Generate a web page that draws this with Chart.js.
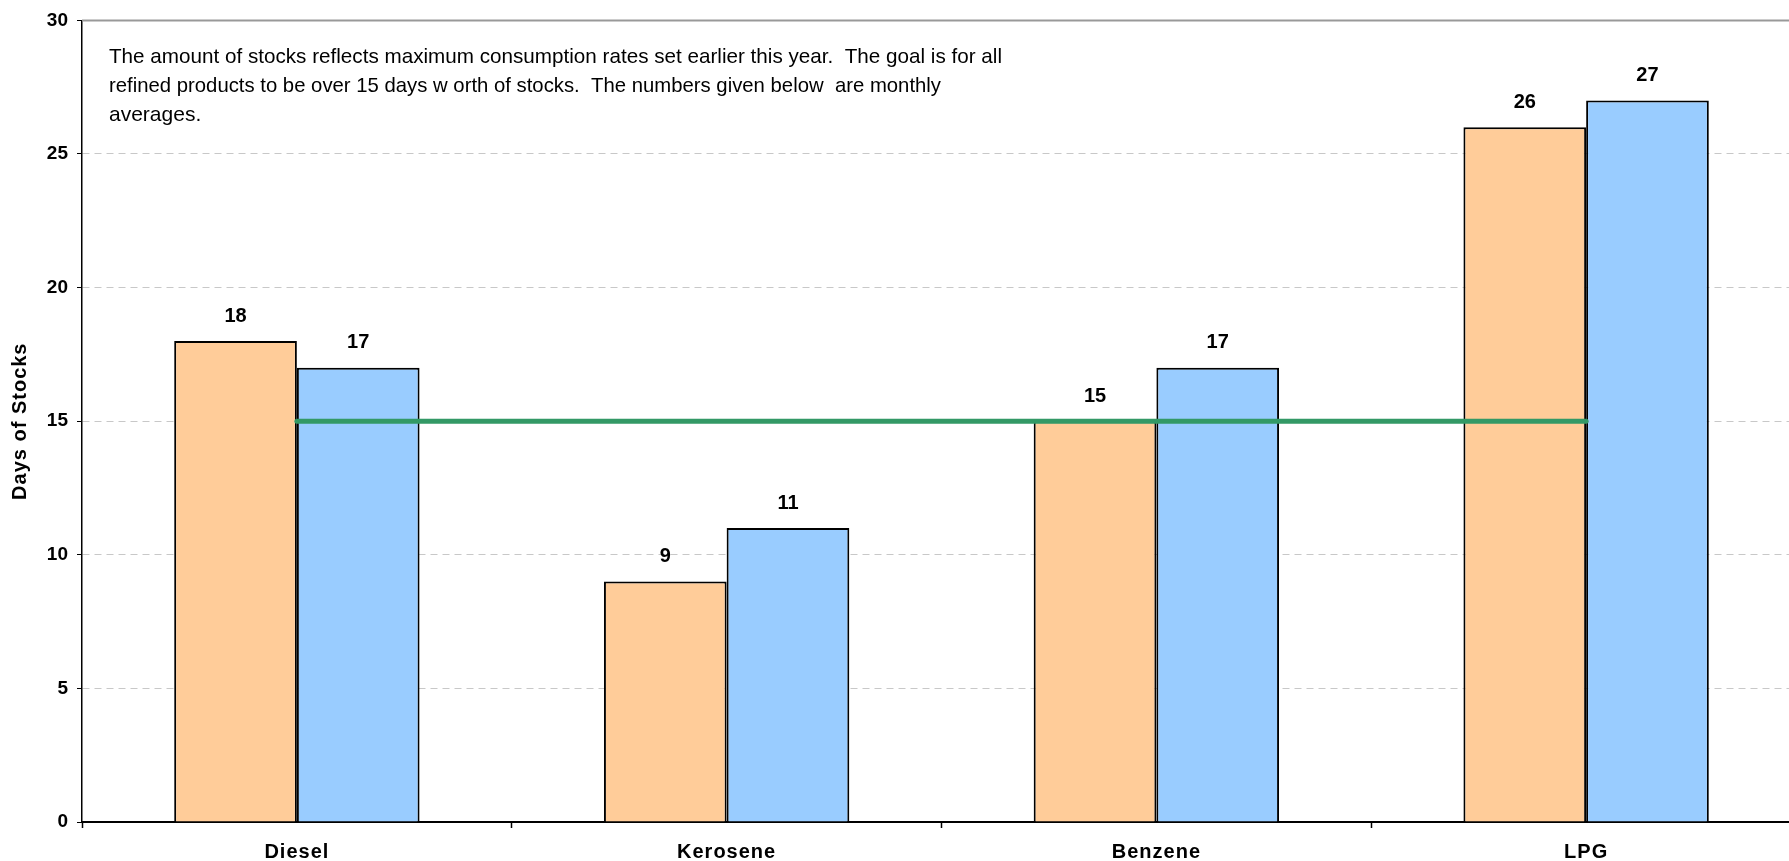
<!DOCTYPE html>
<html>
<head>
<meta charset="utf-8">
<script src="https://cdn.jsdelivr.net/npm/chart.js@4"></script>
<style>
  html, body { margin: 0; padding: 0; background: #fff; overflow: hidden; }
  #wrap { width: 1801px; height: 861px; }
</style>
</head>
<body>
<div id="wrap"><canvas id="c" width="1801" height="861"></canvas></div>
<script>
const categories = ['Diesel', 'Kerosene', 'Benzene', 'LPG'];
const seriesA = [18, 9, 15, 26];
const seriesB = [17, 11, 17, 27];
const goal = [15, 15, 15, 15];
const yTicks = [0, 5, 10, 15, 20, 25, 30];
const noteLines = [
  'The amount of stocks reflects maximum consumption rates set earlier this year.  The goal is for all',
  'refined products to be over 15 days w orth of stocks.  The numbers given below  are monthly',
  'averages.'
];
const FONT = '"Liberation Sans", Arial, Helvetica, sans-serif';

const spacingPlugin = {
  id: 'spacing',
  afterLayout(chart) {
    const y = chart.scales.y;
    if (y && !y._noSpacingPatched) {
      const orig = y.drawLabels.bind(y);
      y.drawLabels = function (area) {
        const ctx = this.ctx;
        const prev = ctx.letterSpacing;
        ctx.letterSpacing = '0px';
        orig(area);
        ctx.letterSpacing = prev;
      };
      y._noSpacingPatched = true;
    }
  },
  beforeDraw(chart) { chart.ctx.letterSpacing = '1px'; },
  beforeDatasetsDraw(chart) { chart.ctx.letterSpacing = '0px'; }
};

const labelPlugin = {
  id: 'barLabels',
  afterDatasetsDraw(chart) {
    const ctx = chart.ctx;
    ctx.save();
    ctx.letterSpacing = '0px';
    ctx.font = 'bold 20px ' + FONT;
    ctx.fillStyle = '#000';
    ctx.textAlign = 'center';
    ctx.textBaseline = 'middle';
    chart.data.datasets.forEach((ds, i) => {
      if (ds.type === 'line') return;
      const meta = chart.getDatasetMeta(i);
      meta.data.forEach((el, j) => {
        ctx.fillText(String(ds.data[j]), el.x, el.y - 25);
      });
    });
    ctx.restore();
  }
};

const framePlugin = {
  id: 'frame',
  beforeDatasetsDraw(chart) {
    const {ctx, chartArea} = chart;
    ctx.save();
    ctx.strokeStyle = '#999';
    ctx.lineWidth = 2;
    ctx.beginPath();
    ctx.moveTo(chartArea.left, chartArea.top);
    ctx.lineTo(chartArea.right, chartArea.top);
    ctx.stroke();
    ctx.restore();
  },
  afterDraw(chart) {
    const {ctx, chartArea} = chart;
    ctx.save();
    ctx.letterSpacing = '0px';
    ctx.font = '21px ' + FONT;
    ctx.fillStyle = '#000';
    ctx.textAlign = 'left';
    ctx.textBaseline = 'alphabetic';
    const x = chartArea.left + 27;
    const widths = [893, 832, 200];
    noteLines.forEach((t, i) => {
      ctx.fillText(t, x, 63 + i * 29, widths[i]);
    });
    ctx.restore();
  }
};

new Chart(document.getElementById('c'), {
  data: {
    labels: categories,
    datasets: [
      {
        type: 'line',
        label: 'Goal',
        data: goal,
        borderColor: '#339966',
        borderWidth: 5,
        borderCapStyle: 'round',
        pointRadius: 0,
        fill: false,
        order: 0
      },
      {
        type: 'bar',
        label: 'Series 1',
        data: seriesA,
        backgroundColor: '#FFCC99',
        borderColor: '#000',
        borderWidth: 2,
        categoryPercentage: 0.571,
        barPercentage: 1.0,
        order: 1
      },
      {
        type: 'bar',
        label: 'Series 2',
        data: seriesB,
        backgroundColor: '#99CCFF',
        borderColor: '#000',
        borderWidth: 2,
        categoryPercentage: 0.571,
        barPercentage: 1.0,
        order: 1
      }
    ]
  },
  options: {
    responsive: false,
    animation: false,
    devicePixelRatio: 1,
    layout: { padding: { top: 18, right: 0, bottom: 0, left: 0 } },
    plugins: {
      legend: { display: false },
      tooltip: { enabled: false },
      title: { display: false }
    },
    scales: {
      x: {
        type: 'category',
        offset: true,
        grid: {
          offset: true,
          drawOnChartArea: false,
          drawTicks: true,
          tickLength: 6,
          tickColor: '#000',
          tickWidth: 1.5
        },
        border: { display: true, color: '#000', width: 2 },
        ticks: {
          color: '#000',
          font: { family: FONT, size: 20, weight: 'bold' },
          padding: 12,
          maxRotation: 0
        },
        afterFit(scale) { scale.height = 39; }
      },
      y: {
        type: 'linear',
        min: 0,
        max: 30,
        afterBuildTicks(scale) { scale.ticks = yTicks.map(v => ({ value: v })); },
        grid: {
          color: c => (c.tick && (c.tick.value === 0 || c.tick.value === 30)) ? 'rgba(0,0,0,0)' : '#c8c8c8',
          lineWidth: 1,
          drawTicks: true,
          tickLength: 5,
          tickColor: '#000',
          tickWidth: 1
        },
        border: { display: true, color: '#000', width: 1.5, dash: [7, 5] },
        ticks: {
          color: '#000',
          font: { family: FONT, size: 19, weight: 'bold' },
          padding: 9
        },
        title: {
          display: true,
          text: 'Days of Stocks',
          color: '#000',
          font: { family: FONT, size: 20, weight: 'bold' },
          padding: { top: 8, bottom: 0 }
        },
        afterFit(scale) { scale.width = 82; }
      }
    }
  },
  plugins: [spacingPlugin, labelPlugin, framePlugin]
});
</script>
</body>
</html>
